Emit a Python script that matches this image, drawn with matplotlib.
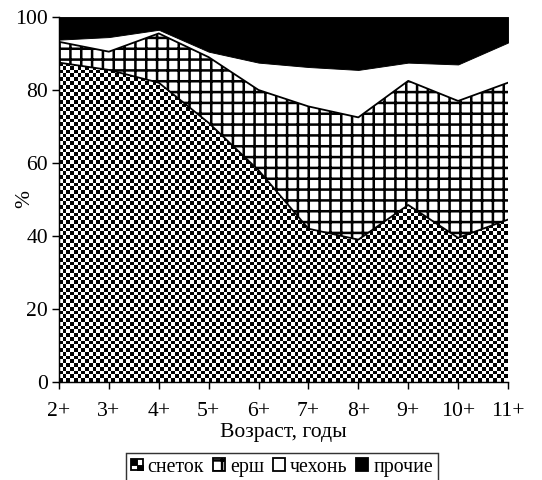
import numpy as np
import matplotlib
matplotlib.use("Agg")
import matplotlib.pyplot as plt
from matplotlib.patches import Rectangle
from matplotlib.legend_handler import HandlerBase

# ---- data ----
ages = ["2+", "3+", "4+", "5+", "6+", "7+", "8+", "9+", "10+", "11+"]
snetok = [87.5, 85.5, 82.0, 71.0, 58.0, 42.0, 39.0, 48.5, 39.5, 44.5]
yorsh = [5.7, 5.0, 13.5, 18.0, 22.0, 33.5, 33.5, 34.0, 37.5, 37.5]
chekhon = [0.6, 4.0, 1.0, 1.5, 7.5, 10.8, 13.0, 5.0, 10.0, 11.0]
legend_labels = ["снеток", "ерш", "чехонь", "прочие"]
yticks = [0, 20, 40, 60, 80, 100]

DPI = 130
plt.rcParams['font.family'] = ['Liberation Serif', 'DejaVu Serif']
plt.rcParams['hatch.linewidth'] = 1.4
FS = 12

x = np.arange(len(ages))
s1 = np.array(snetok)
s2 = s1 + np.array(yorsh)
s3 = s2 + np.array(chekhon)
top = np.full_like(s1, 100.0)

fig = plt.figure(figsize=(542 / DPI, 480 / DPI), dpi=DPI)
ax = fig.add_axes([59 / 542, 1 - 382 / 480, 449 / 542, 365 / 480])

# снеток: checkerboard texture clipped to the area
poly1 = ax.fill_between(x, 0, s1, facecolor='white', edgecolor='none', lw=0, zorder=1)
nx, ny = 120, 97
checker = (np.add.outer(np.arange(ny), np.arange(nx)) % 2).astype(float)
im = ax.imshow(checker, cmap='gray', extent=(0, len(ages) - 1, 0, 100), origin='lower',
               aspect='auto', interpolation='nearest', zorder=2)
im.set_clip_path(poly1.get_paths()[0], ax.transData)

# ерш: square grid
ax.fill_between(x, s1, s2, facecolor='white', edgecolor='black', hatch='++', lw=0, zorder=1)
# чехонь: white
ax.fill_between(x, s2, s3, facecolor='white', edgecolor='none', lw=0, zorder=1)
# прочие: black
ax.fill_between(x, s3, top, facecolor='black', edgecolor='black', lw=0.5, zorder=1)

ax.plot(x, s1, color='black', lw=1.0, zorder=3)
ax.plot(x, s2, color='black', lw=1.0, zorder=3)

ax.set_xlim(0, len(ages) - 1)
ax.set_ylim(0, 100)
ax.set_xticks(x)
ax.set_xticklabels(ages, fontsize=FS)
ax.set_yticks(yticks)
ax.set_yticklabels([str(v) for v in yticks], fontsize=FS)
ax.tick_params(axis='both', direction='out', length=4, width=0.8, colors='black')
ax.tick_params(axis='y', pad=2)
ax.tick_params(axis='x', pad=7)
for sp in ['top', 'right']:
    ax.spines[sp].set_visible(False)
for sp in ['left', 'bottom']:
    ax.spines[sp].set_linewidth(0.8)
    ax.spines[sp].set_zorder(5)
ax.set_xlabel("Возраст, годы", fontsize=FS, labelpad=1)
ax.set_ylabel("%", fontsize=FS)
ax.yaxis.set_label_coords(-0.055, 0.5)


class CheckerHandler(HandlerBase):
    def create_artists(self, legend, orig_handle, xdescent, ydescent, width, height,
                       fontsize, trans):
        s = min(width, height)
        x0 = -xdescent + (width - s) / 2
        y0 = -ydescent + (height - s) / 2
        outer = Rectangle((x0, y0), s, s, facecolor='white', edgecolor='black', lw=1,
                          transform=trans)
        q1 = Rectangle((x0, y0 + s / 2), s / 2, s / 2, facecolor='black', edgecolor='black',
                       lw=0.5, transform=trans)
        q2 = Rectangle((x0 + s / 2, y0), s / 2, s / 2, facecolor='black', edgecolor='black',
                       lw=0.5, transform=trans)
        return [outer, q1, q2]


h1 = Rectangle((0, 0), 1, 1)
h2 = Rectangle((0, 0), 1, 1, facecolor='white', edgecolor='black', hatch='++', lw=1)
h3 = Rectangle((0, 0), 1, 1, facecolor='white', edgecolor='black', lw=1)
h4 = Rectangle((0, 0), 1, 1, facecolor='black', edgecolor='black', lw=1)
leg = fig.legend([h1, h2, h3, h4], legend_labels, loc='center',
                 bbox_to_anchor=(0.52, 0.027), ncol=4, fontsize=11,
                 handler_map={h1: CheckerHandler()}, frameon=True, fancybox=False,
                 edgecolor='black', handlelength=0.6, handleheight=0.6,
                 handletextpad=0.25, columnspacing=0.45, borderpad=0.25,
                 borderaxespad=0)
leg.get_frame().set_linewidth(0.8)

fig.savefig("out.png", dpi=DPI)
